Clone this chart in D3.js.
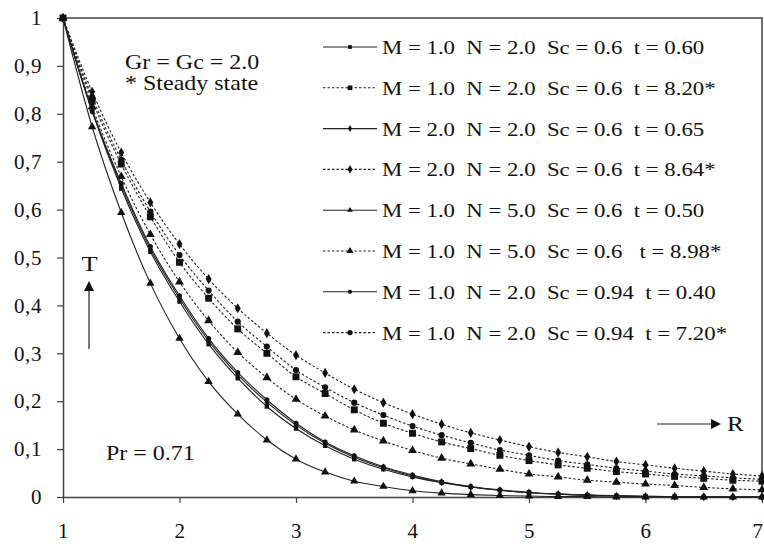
<!DOCTYPE html>
<html>
<head>
<meta charset="utf-8">
<script src="https://cdn.jsdelivr.net/npm/d3@7"></script>
<style>
  body { margin: 0; background: #fff; }
  svg text { font-family: "Liberation Serif", "Times New Roman", serif; fill: #111; }
</style>
</head>
<body>
<svg id="chart" width="764" height="547"></svg>
<script>
// R positions of the markers
const rValues = [1, 1.25, 1.5, 1.75, 2, 2.25, 2.5, 2.75, 3, 3.25, 3.5, 3.75, 4,
                 4.25, 4.5, 4.75, 5, 5.25, 5.5, 5.75, 6, 6.25, 6.5, 6.75, 7];

// T values (transient = solid, steady = dotted)
const tM1N2Sc06 = [1, 0.805, 0.644, 0.512, 0.408, 0.319, 0.248, 0.189, 0.143, 0.107, 0.079, 0.058, 0.042,
                   0.030, 0.021, 0.014, 0.009, 0.006, 0.004, 0.002, 0.001, 0.001, 0, 0, 0];
const sM1N2Sc06 = [1, 0.828, 0.695, 0.585, 0.490, 0.415, 0.351, 0.300, 0.251, 0.216, 0.182, 0.154, 0.133,
                   0.115, 0.101, 0.087, 0.076, 0.067, 0.060, 0.053, 0.048, 0.043, 0.039, 0.035, 0.033];
const tM2N2Sc06 = [1, 0.806, 0.650, 0.518, 0.415, 0.326, 0.255, 0.198, 0.150, 0.112, 0.083, 0.061, 0.044,
                   0.031, 0.021, 0.014, 0.009, 0.006, 0.004, 0.002, 0.001, 0.001, 0, 0, 0];
const sM2N2Sc06 = [1, 0.846, 0.719, 0.615, 0.528, 0.455, 0.394, 0.342, 0.296, 0.259, 0.225, 0.197, 0.173,
                   0.152, 0.134, 0.119, 0.105, 0.093, 0.084, 0.074, 0.067, 0.060, 0.054, 0.048, 0.044];
const tM1N5Sc06 = [1, 0.773, 0.594, 0.446, 0.331, 0.241, 0.173, 0.119, 0.079, 0.052, 0.033, 0.022, 0.013,
                   0.008, 0.005, 0.003, 0.002, 0.001, 0.001, 0, 0, 0, 0, 0, 0];
const sM1N5Sc06 = [1, 0.815, 0.669, 0.548, 0.449, 0.368, 0.302, 0.249, 0.204, 0.169, 0.140, 0.117, 0.097,
                   0.081, 0.069, 0.058, 0.048, 0.042, 0.035, 0.031, 0.027, 0.024, 0.020, 0.017, 0.015];
const tM1N2Sc094 = [1, 0.808, 0.655, 0.523, 0.420, 0.331, 0.260, 0.203, 0.154, 0.115, 0.086, 0.063, 0.046,
                    0.032, 0.022, 0.015, 0.010, 0.006, 0.004, 0.003, 0.002, 0.001, 0.001, 0, 0];
const sM1N2Sc094 = [1, 0.835, 0.704, 0.596, 0.505, 0.431, 0.366, 0.314, 0.265, 0.229, 0.197, 0.171, 0.148,
                    0.129, 0.113, 0.098, 0.087, 0.076, 0.068, 0.060, 0.054, 0.048, 0.044, 0.040, 0.037];

const legendLabels = [
  'M = 1.0  N = 2.0  Sc = 0.6  t = 0.60',
  'M = 1.0  N = 2.0  Sc = 0.6  t = 8.20*',
  'M = 2.0  N = 2.0  Sc = 0.6  t = 0.65',
  'M = 2.0  N = 2.0  Sc = 0.6  t = 8.64*',
  'M = 1.0  N = 5.0  Sc = 0.6  t = 0.50',
  'M = 1.0  N = 5.0  Sc = 0.6   t = 8.98*',
  'M = 1.0  N = 2.0  Sc = 0.94  t = 0.40',
  'M = 1.0  N = 2.0  Sc = 0.94  t = 7.20*'
];

const xTicks = [1, 2, 3, 4, 5, 6, 7];
const yTicks = [0, 0.1, 0.2, 0.3, 0.4, 0.5, 0.6, 0.7, 0.8, 0.9, 1];
const yTickLabels = ['0', '0,1', '0,2', '0,3', '0,4', '0,5', '0,6', '0,7', '0,8', '0,9', '1'];

// series table (legend order)
const series = [
  { label: legendLabels[0], values: tM1N2Sc06, symbol: d3.symbolSquare, steady: false },
  { label: legendLabels[1], values: sM1N2Sc06, symbol: d3.symbolSquare, steady: true },
  { label: legendLabels[2], values: tM2N2Sc06, symbol: d3.symbolDiamond, steady: false },
  { label: legendLabels[3], values: sM2N2Sc06, symbol: d3.symbolDiamond, steady: true },
  { label: legendLabels[4], values: tM1N5Sc06, symbol: d3.symbolTriangle, steady: false },
  { label: legendLabels[5], values: sM1N5Sc06, symbol: d3.symbolTriangle, steady: true },
  { label: legendLabels[6], values: tM1N2Sc094, symbol: d3.symbolCircle, steady: false },
  { label: legendLabels[7], values: sM1N2Sc094, symbol: d3.symbolCircle, steady: true }
];

// svg constants
const svg = d3.select('svg#chart');
const margin = { top: 18, right: 2, bottom: 50, left: 63 };
const WIDTH = +svg.attr('width');
const HEIGHT = +svg.attr('height');
const innerWidth = WIDTH - margin.left - margin.right;
const innerHeight = HEIGHT - margin.top - margin.bottom;
const AXIS_COLOR = '#444';
const STRETCH = 1.2; // the original's lettering is a bit wider than Times

const x = d3.scaleLinear().domain([1, 7]).range([0, innerWidth]);
const y = d3.scaleLinear().domain([0, 1]).range([innerHeight, 0]);

const g = svg.append('g').attr('transform', `translate(${margin.left},${margin.top})`);

// frame (top + right)
g.append('path')
  .attr('d', `M0,0H${innerWidth}V${innerHeight}`)
  .attr('fill', 'none')
  .attr('stroke', AXIS_COLOR)
  .attr('stroke-width', 1.5);

// axes
const yAxis = d3.axisLeft(y).tickValues(yTicks).tickFormat((d, i) => yTickLabels[i]).tickSize(6).tickSizeOuter(0).tickPadding(15);
const xAxis = d3.axisBottom(x).tickValues(xTicks).tickFormat(d3.format('d')).tickSize(6).tickSizeOuter(0).tickPadding(20);

const yG = g.append('g').call(yAxis);
const xG = g.append('g').attr('transform', `translate(0,${innerHeight})`).call(xAxis);
[yG, xG].forEach(a => {
  a.select('.domain').attr('stroke', AXIS_COLOR).attr('stroke-width', 1.5);
  a.selectAll('.tick line').attr('stroke', AXIS_COLOR).attr('stroke-width', 1.2);
  a.selectAll('.tick text')
    .style('font-family', '"Liberation Serif", serif')
    .style('font-size', '21px')
    .style('letter-spacing', '0.6px')
    .attr('fill', '#111');
});
// the last label sits on the right border
xG.selectAll('.tick text').filter(d => d === 7).attr('text-anchor', 'end').attr('dx', '1px');

// curves
const line = d3.line()
  .x((d, i) => x(rValues[i]))
  .y(d => y(d))
  .curve(d3.curveMonotoneX);

const symbolSize = (s) => {
  if (s.symbol === d3.symbolSquare) return s.steady ? 48 : 20;
  if (s.symbol === d3.symbolTriangle) return s.steady ? 34 : 30;
  if (s.symbol === d3.symbolDiamond) return s.steady ? 30 : 20;
  return s.steady ? 30 : 20;
};

series.forEach(s => {
  g.append('path')
    .datum(s.values)
    .attr('d', line)
    .attr('fill', 'none')
    .attr('stroke', '#222')
    .attr('stroke-width', 1.1)
    .attr('stroke-dasharray', s.steady ? '2.5,2' : null);

  g.append('g').selectAll('path')
    .data(s.values)
    .join('path')
    .attr('transform', (d, i) => `translate(${x(rValues[i])},${y(d)})`)
    .attr('d', d3.symbol().type(s.symbol).size(symbolSize(s)))
    .attr('fill', '#111');
});

// stretched text helper (scale sits on a wrapper group)
function label(px, py, txt, size, anchor) {
  g.append('g')
    .attr('transform', `translate(${px - margin.left},${py - margin.top}) scale(${STRETCH},1)`)
    .append('text')
    .attr('text-anchor', anchor || 'start')
    .style('font-size', size + 'px')
    .text(txt.replace(/  /g, ' \u00A0'));
}

// legend
const legendX = 323;
const legendY0 = 47;
const legendStep = 40.8;
series.forEach((s, i) => {
  const ly = legendY0 + i * legendStep;
  g.append('line')
    .attr('x1', legendX - margin.left).attr('x2', legendX + 54 - margin.left)
    .attr('y1', ly - margin.top).attr('y2', ly - margin.top)
    .attr('stroke', '#222')
    .attr('stroke-width', 1.1)
    .attr('stroke-dasharray', s.steady ? '2.5,2' : null);
  g.append('path')
    .attr('transform', `translate(${legendX + 27 - margin.left},${ly - margin.top})`)
    .attr('d', d3.symbol().type(s.symbol).size(s.steady ? 22 : 14)())
    .attr('fill', '#111');
  label(legendX + 59, ly + 7, s.label, 19);
});

// annotations
label(125, 69, 'Gr = Gc = 2.0', 20);
label(125, 90, '* Steady state', 20);
label(106, 460, 'Pr = 0.71', 20);

// T arrow
label(89.5, 271, 'T', 22, 'middle');
g.append('line')
  .attr('x1', 89 - margin.left).attr('x2', 89 - margin.left)
  .attr('y1', 349 - margin.top).attr('y2', 290 - margin.top)
  .attr('stroke', '#222').attr('stroke-width', 1.2);
g.append('path')
  .attr('d', `M${89 - margin.left},${281 - margin.top}l-5,10h10z`)
  .attr('fill', '#111');

// R arrow
g.append('line')
  .attr('x1', 657 - margin.left).attr('x2', 712 - margin.left)
  .attr('y1', 424 - margin.top).attr('y2', 424 - margin.top)
  .attr('stroke', '#222').attr('stroke-width', 1.2);
g.append('path')
  .attr('d', `M${721 - margin.left},${424 - margin.top}l-10,-5v10z`)
  .attr('fill', '#111');
label(727, 431, 'R', 21);
</script>
</body>
</html>
